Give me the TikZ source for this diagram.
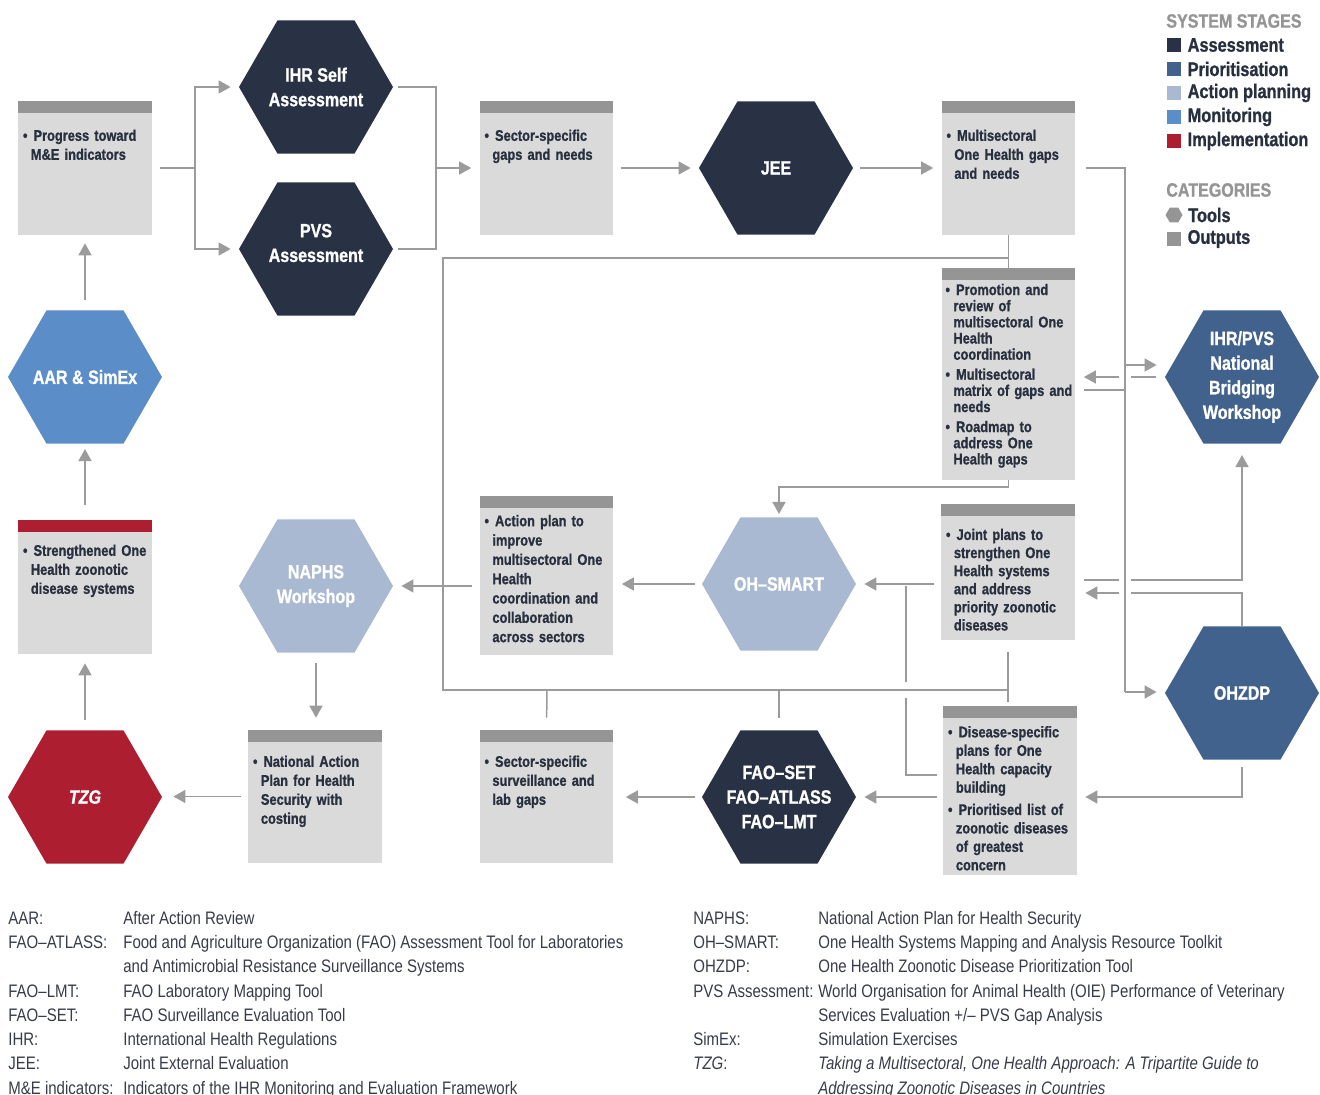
\documentclass[tikz,border=0pt]{standalone}
\usepackage{fontspec}
\setmainfont{Liberation Sans}[FakeStretch=0.83, BoldFont={Liberation Sans Bold},
  ItalicFont={Liberation Sans Italic}, BoldItalicFont={Liberation Sans Bold Italic},
  BoldFeatures={FakeBold=1}, BoldItalicFeatures={FakeBold=1}]
\usetikzlibrary{shapes.geometric,arrows.meta,positioning}
\definecolor{assess}{RGB}{41,50,69}
\definecolor{prior}{RGB}{66,98,142}
\definecolor{actplan}{RGB}{169,185,209}
\definecolor{monit}{RGB}{91,141,200}
\definecolor{implem}{RGB}{173,30,49}
\definecolor{boxfill}{RGB}{218,218,218}
\definecolor{boxtop}{RGB}{149,149,149}
\definecolor{linkgray}{RGB}{155,155,155}
\definecolor{ink}{RGB}{40,48,64}
\definecolor{abbrink}{RGB}{55,60,72}
\newcommand{\bitem}{\par\noindent\makebox[6pt][l]{\textbullet}}
\newcommand{\nl}{\hfil\break\hspace*{4.5pt}}

\begin{document}
\begin{tikzpicture}[x=0.02cm, y=-0.02cm,
   hexa/.style={regular polygon, regular polygon sides=6, minimum size=3.08cm, inner sep=0pt, fill=#1},
   hexlab/.style={text=white, font=\fontsize{11}{14}\selectfont\bfseries, align=center, inner sep=0pt},
   outbox/.style={rectangle, fill=boxfill, minimum width=2.68cm, minimum height=#1, inner sep=0pt,
     path picture={\fill[boxtop] (path picture bounding box.north west) rectangle ([yshift=-0.24cm]path picture bounding box.north east);}},
   redtop/.style={path picture={\fill[implem] (path picture bounding box.north west) rectangle ([yshift=-0.24cm]path picture bounding box.north east);}},
   boxtext/.style={inner sep=0pt, text width=2.55cm, align=left, text=ink, font=\fontsize{8.8}{#1}\selectfont\bfseries,
     execute at begin node={\setlength{\parskip}{2.2pt}}},
   boxtext/.default=10.8,
   conn/.style={draw=linkgray, line width=0.85pt},
   flow/.style={conn, -{Triangle[length=0.24cm, width=0.26cm]}, shorten <=0.14cm, shorten >=0.16cm},
   legsq/.style={minimum size=0.28cm, inner sep=0pt},
   legtext/.style={inner sep=0pt, xshift=0.12cm, text=ink, font=\fontsize{11.2}{13}\selectfont\bfseries},
   leghead/.style={anchor=west, inner sep=0pt, text=boxtop, font=\fontsize{11}{13}\selectfont\bfseries},
   abbr/.style={anchor=north west, inner sep=0pt, text=abbrink, font=\fontsize{10.3}{13.8}\selectfont}]
   \useasboundingbox (0,0) rectangle (1320,1095);

   \node[hexa=assess, label={[hexlab]center:IHR Self\\Assessment}] (ihr) at (316,87) {};
   \node[hexa=assess, label={[hexlab, yshift=0.12cm]center:PVS\\Assessment}] (pvs) at (316,249) {};
   \node[hexa=assess, label={[hexlab]center:JEE}] (jee) at (776,168) {};
   \node[hexa=monit, label={[hexlab]center:AAR \& SimEx}] (aar) at (85,377) {};
   \node[hexa=prior, label={[hexlab]center:IHR/PVS\\National\\Bridging\\Workshop}] (bridge) at (1242,377) {};
   \node[hexa=actplan, label={[hexlab]center:NAPHS\\Workshop}] (naphs) at (316,586) {};
   \node[hexa=actplan, label={[hexlab]center:OH–SMART}] (ohsmart) at (779,584) {};
   \node[hexa=prior, label={[hexlab]center:OHZDP}] (ohzdp) at (1242,693) {};
   \node[hexa=implem, label={[hexlab]center:\textit{TZG}}] (tzg) at (85,797) {};
   \node[hexa=assess, label={[hexlab]center:FAO–SET\\FAO–ATLASS\\FAO–LMT}] (fao) at (779,797) {};

   \node[outbox=2.68cm] (progress) at (85,168) {};
   \node[boxtext, below right=0.34cm and 0.1cm of progress.north west] (progresstx) {\bitem Progress toward\nl M\&E indicators};
   \node[outbox=2.68cm] (sector) at (546.5,168) {};
   \node[boxtext, below right=0.34cm and 0.1cm of sector.north west] (sectortx) {\bitem Sector-specific\nl gaps and needs};
   \node[outbox=2.68cm] (multi) at (1008.5,168) {};
   \node[boxtext, below right=0.34cm and 0.1cm of multi.north west] (multitx) {\bitem Multisectoral\nl One Health gaps\nl and needs};
   \node[outbox=4.24cm] (promo) at (1008.5,374) {};
   \node[boxtext=9.2, below right=0.14cm and 0.08cm of promo.north west] (promotx) {\bitem Promotion and\nl review of\nl multisectoral One\nl Health\nl coordination
     \bitem Multisectoral\nl matrix of gaps and\nl needs \bitem Roadmap to\nl address One\nl Health gaps};
   \node[outbox=3.18cm] (action) at (546.5,575.5) {};
   \node[boxtext=11, below right=0.14cm and 0.1cm of action.north west] (actiontx) {\bitem Action plan to\nl improve\nl multisectoral One\nl Health\nl coordination and\nl collaboration\nl across sectors};
   \node[outbox=2.68cm, redtop] (strength) at (85,587) {};
   \node[boxtext, below right=0.26cm and 0.1cm of strength.north west] (strengthtx) {\bitem Strengthened One\nl Health zoonotic\nl disease systems};
   \node[outbox=2.72cm] (joint) at (1008,572) {};
   \node[boxtext=10.3, below right=0.28cm and 0.1cm of joint.north west] (jointtx) {\bitem Joint plans to\nl strengthen One\nl Health systems\nl and address\nl priority zoonotic\nl diseases};
   \node[outbox=2.66cm] (national) at (315,796.5) {};
   \node[boxtext, below right=0.28cm and 0.1cm of national.north west] (nationaltx) {\bitem National Action\nl Plan for Health\nl Security with\nl costing};
   \node[outbox=2.66cm] (surv) at (546.5,796.5) {};
   \node[boxtext, below right=0.28cm and 0.1cm of surv.north west] (survtx) {\bitem Sector-specific\nl surveillance and\nl lab gaps};
   \node[outbox=3.38cm] (disease) at (1010,790.5) {};
   \node[boxtext=10.5, below right=0.18cm and 0.1cm of disease.north west] (diseasetx) {\bitem Disease-specific\nl plans for One\nl Health capacity\nl building
     \bitem Prioritised list of\nl zoonotic diseases\nl of greatest\nl concern};

   \coordinate (s1) at (195,168);
   \coordinate (s2) at (436,168);
   \coordinate (t1) at (1125,168);
   \coordinate (t2) at (1125,692);
   \coordinate (t3) at (1125,365);
   \coordinate (t4) at (1125,390);
   \coordinate (c1) at (1131,377);
   \coordinate (c2) at (1119,377);
   \coordinate (p1) at (1008.5,487);
   \coordinate (l1) at (1008.5,258);
   \coordinate (l2) at (1008,690);
   \coordinate (l4) at (443,690);
   \coordinate (b1) at (547,690);
   \coordinate (b2) at (779,690);
   \coordinate (d1) at (906,775);
   \coordinate (g1) at (906,698);
   \coordinate (g2) at (906,682);
   \coordinate (d2) at (906,586);
   \coordinate (e1) at (1242,797);
   \coordinate (f1) at (1119,580);
   \coordinate (f2) at (1131,580);
   \coordinate (h1) at (1131,593);
   \coordinate (h2) at (1119,593);

   \draw[conn, shorten <=0.16cm] (progress.east) -- (s1);
   \draw[flow, shorten <=0pt] (s1) |- (ihr.west);
   \draw[flow, shorten <=0pt] (s1) |- (pvs.west);
   \draw[conn, shorten <=0.1cm, shorten >=0.1cm] (ihr.east) -| (s2) |- (pvs.east);
   \draw[flow, shorten <=0pt] (s2) -- (sector.west);
   \draw[flow] (sector) -- (jee);
   \draw[flow] (jee) -- (multi);
   \draw[conn, shorten <=0.2cm] (multi.east) -- (t1) -- (t2);
   \draw[flow, shorten <=0pt] (t2) -- (t2 -| ohzdp.west);
   \draw[flow, shorten <=0pt] (t3) -- (t3 -| bridge.west);
   \draw[conn, shorten <=0.16cm] (promo.east |- t4) -- (t4);
   \draw[conn, shorten <=0.18cm] (bridge.west) -- (c1);
   \draw[flow, shorten <=0pt] (c2) -- (c2 -| promo.east);
   \draw[flow, shorten <=0pt, shorten >=0.06cm] (promo.south) -- (p1) -| (ohsmart.north);
   \draw[conn] (multi.south) -- (promo.north);
   \draw[conn] (l1) -| (l4) -- (l2);
   \draw[conn, shorten <=0.24cm, shorten >=0.08cm] (joint.south) -- (joint.south |- disease.north);
   \draw[conn, shorten >=0.24cm] (b1) -- (surv.north);
   \draw[conn, shorten >=0.24cm] (b2) -- (fao.north);
   \draw[flow] (joint.west |- ohsmart.east) -- (ohsmart.east);
   \draw[conn, shorten <=0.12cm] (disease.west |- d1) -- (d1) -- (g1);
   \draw[conn] (g2) -- (d2);
   \draw[flow] (ohsmart.west) -- (ohsmart.west -| action.east);
   \draw[flow] (action.west |- naphs.east) -- (naphs.east);
   \draw[flow, shorten <=0.2cm, shorten >=0.24cm] (naphs.south) -- (naphs.south |- national.north);
   \draw[flow, shorten >=0.22cm] (national.west) -- (national.west -| tzg.east);
   \draw[flow, shorten <=0.2cm, shorten >=0.18cm] (tzg.north) -- (strength.south);
   \draw[flow, shorten <=0.3cm, shorten >=0.1cm] (strength.north) -- (aar.south);
   \draw[flow, shorten <=0.2cm, shorten >=0.16cm] (aar.north) -- (progress.south);
   \draw[flow, shorten <=0.14cm] (ohzdp.south) -- (e1) -- (e1 -| disease.east);
   \draw[flow, shorten <=0.12cm] (disease.west |- fao.east) -- (fao.east);
   \draw[flow, shorten >=0.24cm] (fao.west) -- (fao.west -| surv.east);
   \draw[conn, shorten <=0.18cm] (joint.east |- f1) -- (f1);
   \draw[flow, shorten <=0pt, shorten >=0.22cm] (f2) -| (bridge.south);
   \draw[conn] (ohzdp.north) |- (h1);
   \draw[flow, shorten <=0pt, shorten >=0.2cm] (h2) -- (h2 -| joint.east);

   \node[leghead] (stages) at (1166,21) {SYSTEM STAGES};
   \node[legsq, fill=assess, label={[legtext]right:Assessment}] (k1) at (1174,45) {};
   \node[legsq, fill=prior, label={[legtext]right:Prioritisation}] (k2) at (1174,69) {};
   \node[legsq, fill=actplan, label={[legtext]right:Action planning}] (k3) at (1174,93) {};
   \node[legsq, fill=monit, label={[legtext]right:Monitoring}] (k4) at (1174,117) {};
   \node[legsq, fill=implem, label={[legtext]right:Implementation}] (k5) at (1174,141) {};
   \node[leghead] (cats) at (1166,190) {CATEGORIES};
   \node[regular polygon, regular polygon sides=6, minimum size=0.34cm, inner sep=0pt, fill=boxtop,
     label={[legtext, xshift=-0.02cm]right:Tools}] (k6) at (1174,215) {};
   \node[legsq, fill=boxtop, label={[legtext]right:Outputs}] (k7) at (1174,239) {};

   \node[abbr] (abbrleft) at (8,907) {\begin{tabular}{@{}p{2.3cm}@{}l@{}}
     AAR: & After Action Review\\
     FAO–ATLASS: & Food and Agriculture Organization (FAO) Assessment Tool for Laboratories\\
     & and Antimicrobial Resistance Surveillance Systems\\
     FAO–LMT: & FAO Laboratory Mapping Tool\\
     FAO–SET: & FAO Surveillance Evaluation Tool\\
     IHR: & International Health Regulations\\
     JEE: & Joint External Evaluation\\
     M\&E~indicators: & Indicators of the IHR Monitoring and Evaluation Framework
   \end{tabular}};
   \node[abbr] (abbrright) at (693,907) {\begin{tabular}{@{}p{2.5cm}@{}l@{}}
     NAPHS: & National Action Plan for Health Security\\
     OH–SMART: & One Health Systems Mapping and Analysis Resource Toolkit\\
     OHZDP: & One Health Zoonotic Disease Prioritization Tool\\
     PVS~Assessment: & World Organisation for Animal Health (OIE) Performance of Veterinary\\
     & Services Evaluation +/– PVS Gap Analysis\\
     SimEx: & Simulation Exercises\\
     \textit{TZG}: & \textit{Taking a Multisectoral, One Health Approach: A Tripartite Guide to}\\
     & \textit{Addressing Zoonotic Diseases in Countries}
   \end{tabular}};
\end{tikzpicture}
\end{document}
